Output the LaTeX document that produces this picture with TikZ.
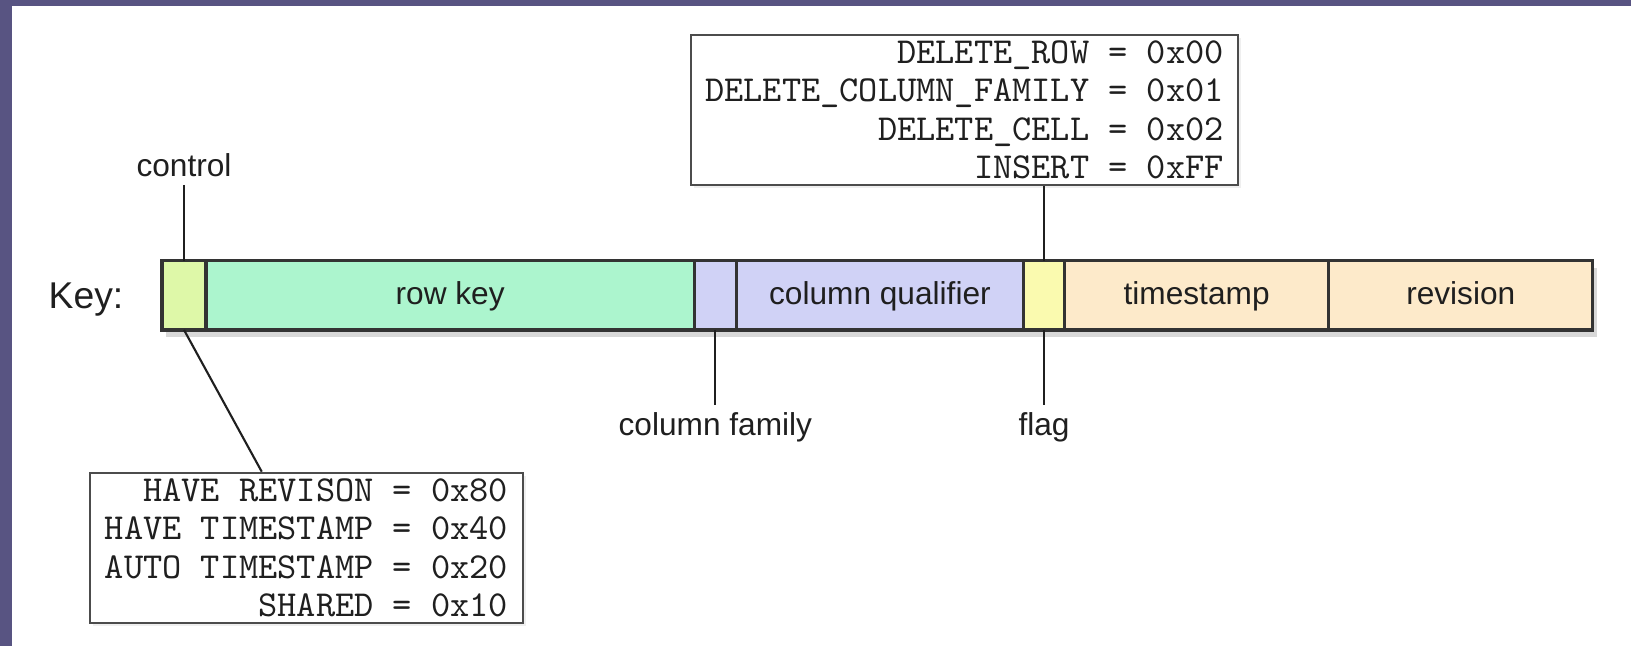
\documentclass[tikz,border=0pt]{standalone}
\usepackage{fontspec}
\setmainfont{Liberation Sans}
\usepackage{tikz}
\usetikzlibrary{positioning}
\usetikzlibrary{shadows}
\usetikzlibrary{backgrounds}
\definecolor{slide}{RGB}{88,84,130}
\definecolor{ctlfill}{RGB}{222,248,168}
\definecolor{rowfill}{RGB}{172,245,206}
\definecolor{colfill}{RGB}{208,210,246}
\definecolor{flagfill}{RGB}{250,250,175}
\definecolor{timefill}{RGB}{253,234,202}
\colorlet{rim}{black!80}
\colorlet{ink}{black!88}
\tikzset{
  % node options
  field/.style={rectangle,draw=rim,line width=0.9pt,minimum height=0.69cm,
    inner sep=0pt,outer sep=0pt,text=ink,font=\fontsize{9}{11}\selectfont,
    text height=0.72em,text depth=0.21em},
  ctlField/.style={field,fill=ctlfill},
  rowField/.style={field,fill=rowfill},
  colField/.style={field,fill=colfill},
  flagField/.style={field,fill=flagfill},
  timeField/.style={field,fill=timefill},
  tag/.style={text=ink,font=\fontsize{9}{11}\selectfont,inner sep=2pt},
  codes/.style={rectangle,draw=black!70,line width=0.7pt,fill=white,
    align=right,inner sep=0pt,minimum height=1.5cm,text=ink,
    font=\ttfamily\fontsize{10.4}{10.95}\selectfont,
    drop shadow={opacity=0.12,shadow xshift=0.03cm,shadow yshift=-0.03cm}},
  % path options
  pointer/.style={draw=ink,line width=0.6pt},
}

\begin{document}
\begin{tikzpicture}[x=0.01cm,y=-0.01cm]
  \useasboundingbox (0,0) rectangle (1631,646);
  % the key, field by field
  \node[ctlField,minimum width=0.44cm,anchor=west] (ctl) at (162,295.4) {};
  \node[rowField,minimum width=4.88cm,right=0pt of ctl] (row) {row key};
  \node[colField,minimum width=0.42cm,right=0pt of row] (fam) {};
  \node[colField,minimum width=2.87cm,right=0pt of fam] (qual) {column qualifier};
  \node[flagField,minimum width=0.41cm,right=0pt of qual] (flag) {};
  \node[timeField,minimum width=2.64cm,right=0pt of flag] (time) {timestamp};
  \node[timeField,minimum width=2.64cm,right=0pt of time] (rev) {revision};
  \node[text=ink,font=\fontsize{10.6}{13}\selectfont,inner sep=0pt,
    left=0.38cm of ctl,yshift=-0.04cm] (keylbl) {Key:};
  % labels
  \node[tag,above=0.76cm of ctl] (ctltag) {control};
  \node[tag,below=0.75cm of fam] (famtag) {column family};
  \node[tag,below=0.75cm of flag] (flagtag) {flag};
  % bit values
  \node[codes,minimum width=5.47cm] (flagcodes) at (964.5,110)
    {DELETE\_ROW = 0x00\\DELETE\_COLUMN\_FAMILY = 0x01\\DELETE\_CELL = 0x02\\INSERT = 0xFF};
  \node[codes,minimum width=4.33cm] (ctlcodes) at (306.5,548)
    {HAVE REVISON = 0x80\\HAVE TIMESTAMP = 0x40\\AUTO TIMESTAMP = 0x20\\SHARED = 0x10};
  \draw[pointer] (ctltag) -- (ctl);
  \draw[pointer] (fam) -- (famtag);
  \draw[pointer] (flag) -- (flagtag);
  \draw[pointer] (flag.north) -- (flag.north |- flagcodes.south);
  \draw[pointer] (ctl.south) -- ([xshift=1.73cm]ctlcodes.north west);
  \begin{scope}[on background layer]
    \fill[slide] (0,0) rectangle (1631,646);
    \fill[white] (12,6) rectangle (1631,646);
    \path[fill=white,drop shadow={opacity=0.3,shadow xshift=0.04cm,shadow yshift=-0.07cm}]
      (ctl.north west) rectangle (rev.south east);
  \end{scope}
\end{tikzpicture}
\end{document}
